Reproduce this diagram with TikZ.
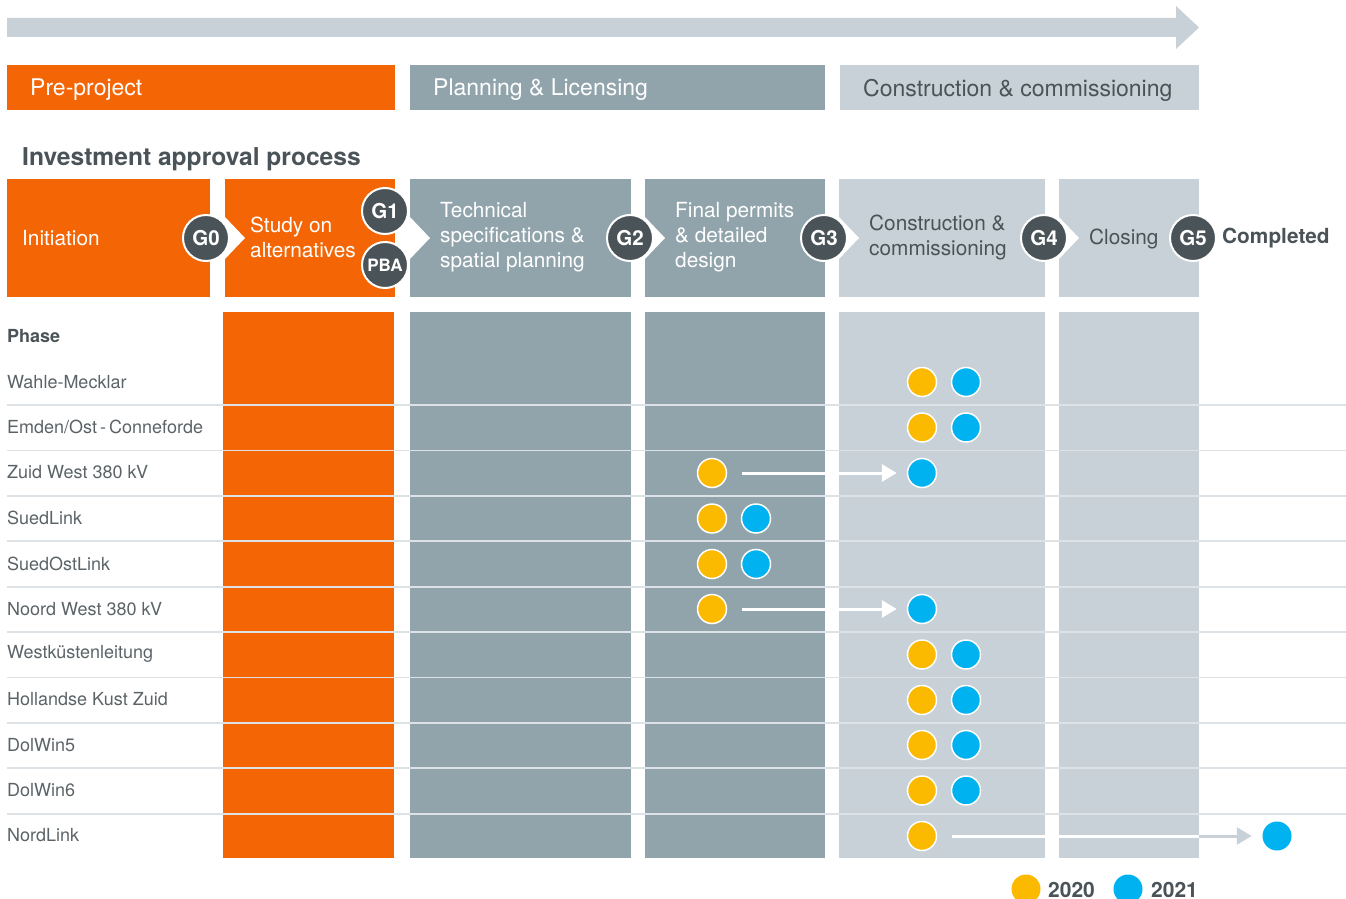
\documentclass[tikz,border=0pt]{standalone}
\usepackage{fontspec}
\setmainfont{TeX Gyre Heros}
\usetikzlibrary{arrows.meta}
\definecolor{orng}{HTML}{F46505}
\definecolor{gmid}{HTML}{91A4AC}
\definecolor{glight}{HTML}{C8D1D7}
\definecolor{gdark}{HTML}{4A5357}
\definecolor{tgrey}{HTML}{5B6367}
\definecolor{sepl}{HTML}{DCE2E6}
\definecolor{dotY}{HTML}{FBB900}
\definecolor{dotB}{HTML}{00B2EF}
\newcommand{\fsz}[2]{\fontsize{#1}{#2}\selectfont}
\tikzset{
  txt/.style={inner sep=0pt, anchor=west, align=left},
  gate/.style={circle, fill=gdark, draw=white, line width=2pt, minimum size=46pt, inner sep=0pt, text=white, font=\bfseries\fsz{20.5}{24}},
  ydot/.style={circle, fill=dotY, draw=white, line width=1.5pt, minimum size=29pt, inner sep=0pt},
  bdot/.style={circle, fill=dotB, draw=white, line width=1.5pt, minimum size=29pt, inner sep=0pt},
  rowlab/.style={txt, text=tgrey, font=\fsz{18}{22}},
  stg/.style={txt, font=\fsz{20.8}{25}},
  mv/.style={white, line width=3pt, -{Triangle[length=15pt,width=17pt]}, shorten <=15pt, shorten >=10pt},
}
\begin{document}
\begin{tikzpicture}[x=1pt,y=-1pt]
\useasboundingbox (0,0) rectangle (1346,899);
% top arrow
\fill[glight] (7,18) -- (1176,18) -- (1176,6) -- (1199,27.5) -- (1176,49) -- (1176,37) -- (7,37) -- cycle;
% phase bars
\fill[orng] (7,65) rectangle (395,110);
\fill[gmid] (410,65) rectangle (825,110);
\fill[glight] (840,65) rectangle (1199,110);
\node[txt, text=white, font=\fsz{23}{26}] (tpre) at (30,90) {Pre-project};
\node[txt, text=white, font=\fsz{23}{26}] (tplan) at (433,90) {Planning \& Licensing};
\node[txt, text=gdark, font=\fsz{23}{26}] (tcons) at (863,90) {Construction \& commissioning};
% title
\node[txt, text=gdark, font=\bfseries\fsz{24.6}{28}] (title) at (22,159) {Investment approval process};
% stage boxes
\fill[orng] (7,179) rectangle (210,297);
\fill[orng] (225,179) rectangle (395,297);
\fill[gmid] (410,179) rectangle (631,297);
\fill[gmid] (645,179) rectangle (825,297);
\fill[glight] (839,179) rectangle (1045,297);
\fill[glight] (1059,179) rectangle (1199,297);
% notches
\foreach \xx in {225,410,645,839,1059}{
  \fill[white] (\xx-1,216) -- (\xx+20,238) -- (\xx-1,260) -- cycle;
}
% stage texts
\node[stg, text=white] (sinit) at (22,238.5) {Initiation};
\node[stg, text=white] (sstudy) at (250,237.5) {Study on\\alternatives};
\node[stg, text=white] (stech) at (440,237.5) {Technical\\specifications \&\\spatial planning};
\node[stg, text=white] (sfin) at (675,237.5) {Final permits\\\& detailed\\design};
\node[stg, text=gdark] (scons) at (869,237.5) {Construction \&\\commissioning};
\node[stg, text=gdark] (sclos) at (1089,238.5) {Closing};
\node[stg, text=gdark, font=\bfseries\fsz{20.8}{25}] (scomp) at (1222,238.5) {Completed};
% gates
\node[gate] (g0) at (206,238) {G0};
\node[gate] (g1) at (385,211) {G1};
\node[gate, font=\bfseries\fsz{17}{20}] (pba) at (385,265) {PBA};
\node[gate] (g2) at (630,238) {G2};
\node[gate] (g3) at (824,238) {G3};
\node[gate] (g4) at (1044,238) {G4};
\node[gate] (g5) at (1193,238) {G5};
% columns
\fill[orng] (223,312) rectangle (394,858);
\fill[gmid] (410,312) rectangle (631,858);
\fill[gmid] (645,312) rectangle (825,858);
\fill[glight] (839,312) rectangle (1045,858);
\fill[glight] (1059,312) rectangle (1199,858);
% separators
\foreach \k in {0,...,9}{
  \draw[sepl, line width=1.8pt] (7,405+45.4*\k) -- (1346,405+45.4*\k);
}
% labels
\node[txt, text=gdark, font=\bfseries\fsz{18}{22}] (phase) at (7,336) {Phase};
\node[rowlab] (r1) at (7,382) {Wahle-Mecklar};
\node[rowlab] (r2) at (7,427) {Emden/Ost\,-\,Conneforde};
\node[rowlab] (r3) at (7,472.5) {Zuid West 380 kV};
\node[rowlab] (r4) at (7,518) {SuedLink};
\node[rowlab] (r5) at (7,563.5) {SuedOstLink};
\node[rowlab] (r6) at (7,609) {Noord West 380 kV};
\node[rowlab] (r7) at (7,654) {Westküstenleitung};
\node[rowlab] (r8) at (7,699.5) {Hollandse Kust Zuid};
\node[rowlab] (r9) at (7,745) {DolWin5};
\node[rowlab] (r10) at (7,790.5) {DolWin6};
\node[rowlab] (r11) at (7,835.5) {NordLink};
% dots
\node[ydot] (y1) at (922,382) {}; \node[bdot] (b1) at (966,382) {};
\node[ydot] (y2) at (922,427.5) {}; \node[bdot] (b2) at (966,427.5) {};
\node[ydot] (y3) at (712,473) {}; \node[bdot] (b3) at (922,473) {};
\node[ydot] (y4) at (712,518.5) {}; \node[bdot] (b4) at (756,518.5) {};
\node[ydot] (y5) at (712,564) {}; \node[bdot] (b5) at (756,564) {};
\node[ydot] (y6) at (712,609) {}; \node[bdot] (b6) at (922,609) {};
\node[ydot] (y7) at (922,654.5) {}; \node[bdot] (b7) at (966,654.5) {};
\node[ydot] (y8) at (922,700) {}; \node[bdot] (b8) at (966,700) {};
\node[ydot] (y9) at (922,745) {}; \node[bdot] (b9) at (966,745) {};
\node[ydot] (y10) at (922,790.5) {}; \node[bdot] (b10) at (966,790.5) {};
\node[ydot] (y11) at (922,836) {}; \node[bdot, draw=none] (b11) at (1277,836) {};
% arrows
\draw[mv] (y3) -- (b3);
\draw[mv] (y6) -- (b6);
\coordinate (nlmid) at (1199,836);
\draw[white, line width=3pt, shorten <=15pt] (y11) -- (nlmid);
\draw[glight, line width=3pt, -{Triangle[length=15pt,width=17pt]}, shorten >=10pt] (nlmid) -- (b11);
% legend
\node[ydot, draw=none] (ly) at (1026,889) {};
\node[txt, text=gdark, font=\bfseries\fsz{21}{25}] (l20) at (1048,889.5) {2020};
\node[bdot, draw=none] (lb) at (1128,889) {};
\node[txt, text=gdark, font=\bfseries\fsz{21}{25}] (l21) at (1151,889.5) {2021};
\end{tikzpicture}
\end{document}
